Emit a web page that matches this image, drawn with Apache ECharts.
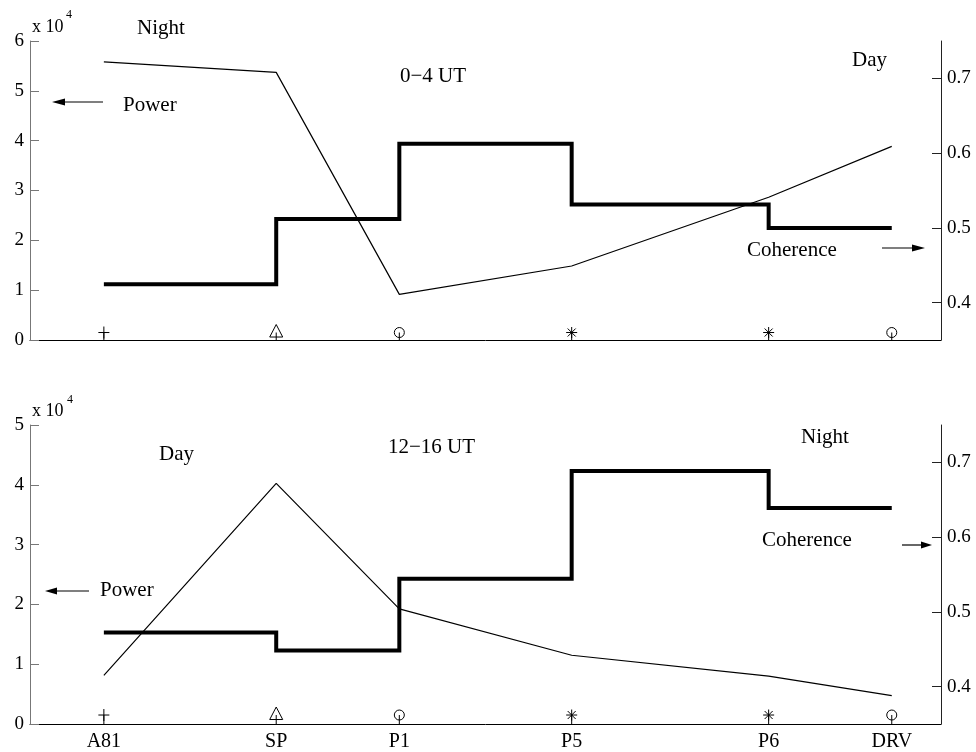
<!DOCTYPE html>
<html>
<head>
<meta charset="utf-8">
<script src="https://cdn.jsdelivr.net/npm/echarts@6/dist/echarts.min.js"></script>
<style>html,body{margin:0;padding:0;background:#fff}#c{width:976px;height:752px}</style>
</head>
<body>
<div id="c"></div>
<script>
// ---- data ----
const stations = ['A81', 'SP', 'P1', 'P5', 'P6', 'DRV'];
const stationX = [1, 2.4, 3.4, 4.8, 6.4, 7.4];
const markerTypes = ['plus', 'triangle', 'circle', 'star', 'star', 'circle'];
const markerLevel = 0.15;
// 0-4 UT panel
const powerTop = [1.12, 2.43, 3.94, 2.72, 2.25, 2.25];       // x 10^4, left axis
const coherenceTop = [0.722, 0.708, 0.411, 0.449, 0.541, 0.609]; // right axis
// 12-16 UT panel
const powerBot = [1.53, 1.23, 2.43, 4.23, 3.61, 3.61];
const coherenceBot = [0.415, 0.672, 0.504, 0.442, 0.414, 0.388];
const leftTicksTop = [0, 1, 2, 3, 4, 5, 6];
const leftTicksBot = [0, 1, 2, 3, 4, 5];
const rightTicks = [0.4, 0.5, 0.6, 0.7];

const FONT = '"Liberation Serif", "DejaVu Serif", serif';
const pair = arr => arr.map((v, i) => [stationX[i], v]);

const chart = echarts.init(document.getElementById('c'));

function markerRender(params, api) {
  const base = api.coord([api.value(0), 0]);
  const c = api.coord([api.value(0), api.value(1)]);
  const cx = c[0], cy = c[1];
  const t = markerTypes[params.dataIndex];
  const st = { stroke: '#000', lineWidth: 1, fill: 'none' };
  const ch = [{ type: 'line', shape: { x1: cx, y1: base[1], x2: cx, y2: cy }, style: st }];
  if (t === 'plus') {
    ch.push({ type: 'line', shape: { x1: cx - 5.5, y1: cy, x2: cx + 5.5, y2: cy }, style: st });
    ch.push({ type: 'line', shape: { x1: cx, y1: cy - 6, x2: cx, y2: cy + 6 }, style: st });
  } else if (t === 'triangle') {
    ch.push({ type: 'polygon', shape: { points: [[cx, cy - 8], [cx - 6.5, cy + 4.5], [cx + 6.5, cy + 4.5]] }, style: st });
  } else if (t === 'circle') {
    ch.push({ type: 'circle', shape: { cx: cx, cy: cy, r: 5 }, style: st });
  } else if (t === 'star') {
    ch.push({ type: 'line', shape: { x1: cx, y1: cy - 5.5, x2: cx, y2: cy + 5.5 }, style: st });
    ch.push({ type: 'line', shape: { x1: cx - 5.5, y1: cy, x2: cx + 5.5, y2: cy }, style: st });
    ch.push({ type: 'line', shape: { x1: cx - 4, y1: cy - 4, x2: cx + 4, y2: cy + 4 }, style: st });
    ch.push({ type: 'line', shape: { x1: cx - 4, y1: cy + 4, x2: cx + 4, y2: cy - 4 }, style: st });
  }
  return { type: 'group', children: ch };
}

function xAxisDef(gridIndex, showLabels) {
  return {
    type: 'value', gridIndex: gridIndex, min: 0.4, max: 7.8,
    axisLine: { show: true, onZero: false, lineStyle: { color: '#000', width: 1 } },
    axisTick: { show: false },
    splitLine: { show: false },
    axisLabel: {
      show: showLabels, customValues: stationX, margin: 8,
      fontFamily: FONT, fontSize: 20, color: '#000',
      formatter: v => { const i = stationX.findIndex(s => Math.abs(s - v) < 1e-6); return i >= 0 ? stations[i] : ''; }
    }
  };
}
function leftAxisDef(gridIndex, max, ticks) {
  return {
    type: 'value', gridIndex: gridIndex, position: 'left', min: 0, max: max, interval: 1,
    axisLine: { show: true, lineStyle: { color: '#777', width: 1 } },
    axisTick: { show: true, inside: true, length: 9, lineStyle: { color: '#777' }, customValues: ticks },
    splitLine: { show: false },
    axisLabel: { margin: 6, fontFamily: FONT, fontSize: 19, color: '#000', customValues: ticks }
  };
}
function rightAxisDef(gridIndex) {
  return {
    type: 'value', gridIndex: gridIndex, position: 'right', min: 0.35, max: 0.75,
    axisLine: { show: true, lineStyle: { color: '#222', width: 1 } },
    axisTick: { show: true, inside: true, length: 9, lineStyle: { color: '#222' }, customValues: rightTicks },
    splitLine: { show: false },
    axisLabel: { margin: 6, fontFamily: FONT, fontSize: 19, color: '#000', customValues: rightTicks,
      formatter: v => v.toFixed(1) }
  };
}

function txt(text, x, y, size) {
  return { type: 'text', x: x, y: y, silent: true,
    style: { text: text, font: (size || 21) + 'px ' + FONT, fill: '#000', textAlign: 'left', textVerticalAlign: 'middle', align: 'left', verticalAlign: 'middle' } };
}
function arrow(x1, x2, y, head) {
  // arrow from x1 to tip x2
  const dir = x2 > x1 ? 1 : -1;
  const hl = head || 12;
  return [
    { type: 'line', silent: true, shape: { x1: x1, y1: y, x2: x2 - dir * hl * 0.8, y2: y }, style: { stroke: '#000', lineWidth: 1.2 } },
    { type: 'polygon', silent: true, shape: { points: [[x2, y], [x2 - dir * hl, y - 3.5], [x2 - dir * hl, y + 3.5]] }, style: { fill: '#000' } }
  ];
}

const option = {
  animation: false,
  backgroundColor: '#fff',
  grid: [
    { left: 30, top: 41, width: 911, height: 299 },
    { left: 30, top: 425, width: 911, height: 300 }
  ],
  xAxis: [xAxisDef(0, false), xAxisDef(1, true)],
  yAxis: [leftAxisDef(0, 6, leftTicksTop), rightAxisDef(0), leftAxisDef(1, 5, leftTicksBot), rightAxisDef(1)],
  series: [
    { name: 'Power 0-4', type: 'line', xAxisIndex: 0, yAxisIndex: 0, step: 'end', data: pair(powerTop), symbol: 'none',
      lineStyle: { color: '#000', width: 4, join: 'miter', cap: 'butt' } },
    { name: 'Coherence 0-4', type: 'line', xAxisIndex: 0, yAxisIndex: 1, data: pair(coherenceTop), symbol: 'none',
      lineStyle: { color: '#000', width: 1.2 } },
    { name: 'Stations 0-4', type: 'custom', xAxisIndex: 0, yAxisIndex: 0, renderItem: markerRender,
      data: stationX.map(x => [x, markerLevel]) },
    { name: 'Power 12-16', type: 'line', xAxisIndex: 1, yAxisIndex: 2, step: 'end', data: pair(powerBot), symbol: 'none',
      lineStyle: { color: '#000', width: 4, join: 'miter', cap: 'butt' } },
    { name: 'Coherence 12-16', type: 'line', xAxisIndex: 1, yAxisIndex: 3, data: pair(coherenceBot), symbol: 'none',
      lineStyle: { color: '#000', width: 1.2 } },
    { name: 'Stations 12-16', type: 'custom', xAxisIndex: 1, yAxisIndex: 2, renderItem: markerRender,
      data: stationX.map(x => [x, markerLevel]) }
  ],
  graphic: [
    txt('x 10', 32, 27, 18), txt('4', 66, 15, 12),
    txt('Night', 137, 28), txt('0\u22124 UT', 400, 76), txt('Day', 852, 60),
    txt('Power', 123, 105), txt('Coherence', 747, 250),
    ...arrow(103, 52, 102, 13), ...arrow(882, 925, 248, 13),
    txt('x 10', 32, 411, 18), txt('4', 67, 400, 12),
    txt('Day', 159, 454), txt('12\u221216 UT', 388, 447), txt('Night', 801, 437),
    txt('Power', 100, 590), txt('Coherence', 762, 540),
    ...arrow(89, 45, 591, 12), ...arrow(902, 932, 545, 11)
  ]
};
chart.setOption(option);
</script>
</body>
</html>
